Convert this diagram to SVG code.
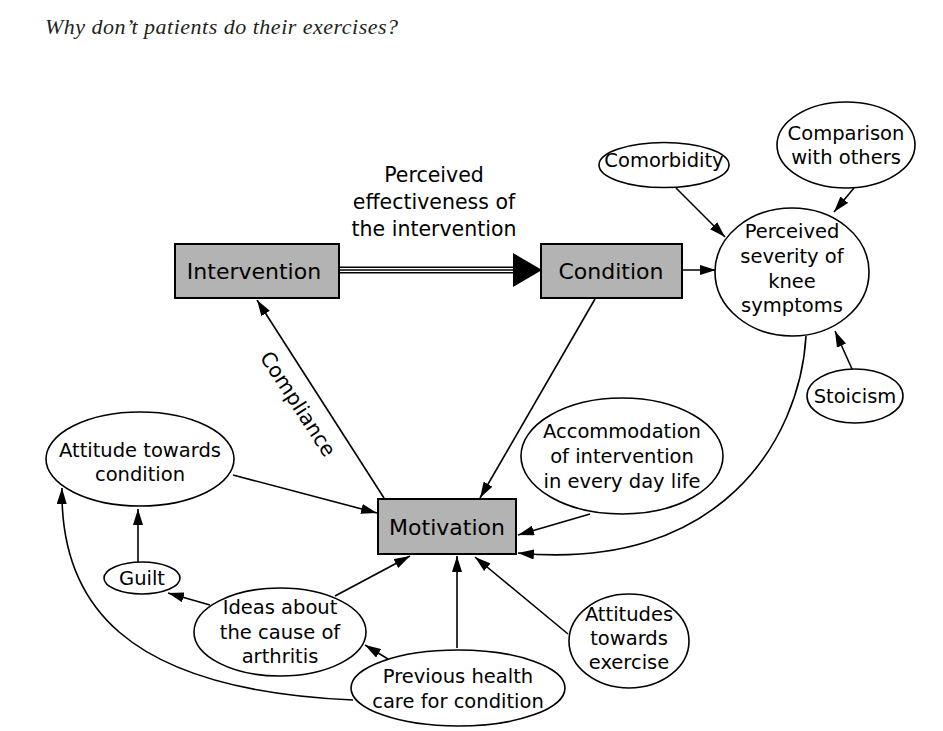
<svg xmlns="http://www.w3.org/2000/svg" width="943" height="731" viewBox="0 0 943 731">
<style>
.bg{fill:#fff}
.box{fill:#b3b3b3;stroke:#000;stroke-width:2}
.ell{fill:#fff;stroke:#000;stroke-width:1.6}
.t{font-family:"DejaVu Sans",sans-serif;font-size:19.5px;fill:#000;text-anchor:middle}
.bt{font-family:"DejaVu Sans",sans-serif;font-size:22px;fill:#000;text-anchor:middle}
.lt{font-family:"DejaVu Sans",sans-serif;font-size:20.5px;fill:#000;text-anchor:middle}
.c{fill:none;stroke:#000;stroke-width:1.6}
.a{marker-end:url(#ah)}
.title{font-family:"Liberation Serif",serif;font-style:italic;font-size:22px;letter-spacing:0.5px;fill:#231f20}
</style>
<defs>
<marker id="ah" viewBox="0 0 16 10" refX="16" refY="5" markerWidth="16" markerHeight="10" markerUnits="userSpaceOnUse" orient="auto">
<path d="M0,0 L16,5 L0,10 z" fill="#000"/>
</marker>
</defs>
<rect class="bg" x="0" y="0" width="943" height="731"/>
<text class="title" x="45" y="34">Why don’t patients do their exercises?</text>

<g id="connectors">
  <line x1="339" y1="267.2" x2="514" y2="267.2" stroke="#000" stroke-width="1.4"/>
  <line x1="339" y1="270" x2="514" y2="270" stroke="#000" stroke-width="1.4"/>
  <line x1="339" y1="272.8" x2="514" y2="272.8" stroke="#000" stroke-width="1.4"/>
  <polygon points="513,253 542,270 513,287" fill="#000"/>
  <line class="c a" x1="682" y1="270" x2="716" y2="270"/>
  <line class="c a" x1="676" y1="188" x2="725" y2="237"/>
  <line class="c a" x1="854" y1="188" x2="834" y2="212"/>
  <line class="c a" x1="852" y1="369" x2="835" y2="331"/>
  <path class="c a" d="M806,336 C800,440 720,572 518,553"/>
  <line class="c a" x1="590" y1="514" x2="518" y2="535"/>
  <line class="c a" x1="595" y1="299" x2="480" y2="498"/>
  <line class="c a" x1="384" y1="498" x2="257" y2="300"/>
  <line class="c a" x1="233" y1="475" x2="377" y2="513"/>
  <line class="c a" x1="138" y1="562" x2="138" y2="509"/>
  <line class="c a" x1="210" y1="605" x2="168" y2="593"/>
  <line class="c a" x1="335" y1="596" x2="410" y2="556"/>
  <line class="c a" x1="457" y1="648" x2="457" y2="556"/>
  <line class="c a" x1="388" y1="659" x2="365" y2="645"/>
  <line class="c a" x1="568" y1="634" x2="475" y2="557"/>
  <path class="c a" d="M353,700 C120,690 60,600 62,488"/>
</g>

<g id="label-effectiveness">
  <text class="lt" x="434" y="182">Perceived</text>
  <text class="lt" x="434" y="209">effectiveness of</text>
  <text class="lt" x="434" y="236">the intervention</text>
</g>
<g id="label-compliance">
  <text class="lt" transform="translate(298,404) rotate(57)" x="0" y="7">Compliance</text>
</g>

<g id="intervention">
  <rect class="box" x="175" y="244" width="164" height="54"/>
  <text class="bt" x="254" y="279">Intervention</text>
</g>
<g id="condition">
  <rect class="box" x="541" y="244" width="141" height="54"/>
  <text class="bt" x="611" y="279">Condition</text>
</g>
<g id="motivation">
  <rect class="box" x="378" y="499" width="138" height="55"/>
  <text class="bt" x="447" y="535">Motivation</text>
</g>
<g id="severity">
  <ellipse class="ell" cx="792" cy="272" rx="77" ry="64"/>
  <text class="t" x="792" y="238">Perceived</text>
  <text class="t" x="792" y="263">severity of</text>
  <text class="t" x="792" y="288">knee</text>
  <text class="t" x="792" y="312">symptoms</text>
</g>
<g id="comorbidity">
  <ellipse class="ell" cx="664" cy="165" rx="65" ry="22.5"/>
  <text class="t" x="664" y="167">Comorbidity</text>
</g>
<g id="comparison">
  <ellipse class="ell" cx="846" cy="145" rx="69" ry="43"/>
  <text class="t" x="846" y="140">Comparison</text>
  <text class="t" x="846" y="164">with others</text>
</g>
<g id="stoicism">
  <ellipse class="ell" cx="855" cy="396" rx="48" ry="27"/>
  <text class="t" x="855" y="403">Stoicism</text>
</g>
<g id="accommodation">
  <ellipse class="ell" cx="622" cy="456" rx="101" ry="58"/>
  <text class="t" x="622" y="438">Accommodation</text>
  <text class="t" x="622" y="463">of intervention</text>
  <text class="t" x="622" y="488">in every day life</text>
</g>
<g id="attitude-condition">
  <ellipse class="ell" cx="140" cy="459" rx="94" ry="47"/>
  <text class="t" x="140" y="457">Attitude towards</text>
  <text class="t" x="140" y="481">condition</text>
</g>
<g id="guilt">
  <ellipse class="ell" cx="142" cy="578" rx="38" ry="16"/>
  <text class="t" x="142" y="585">Guilt</text>
</g>
<g id="ideas">
  <ellipse class="ell" cx="280" cy="632" rx="86" ry="44"/>
  <text class="t" x="280" y="614">Ideas about</text>
  <text class="t" x="280" y="639">the cause of</text>
  <text class="t" x="280" y="663">arthritis</text>
</g>
<g id="previous">
  <ellipse class="ell" cx="458" cy="688" rx="107" ry="38"/>
  <text class="t" x="458" y="683">Previous health</text>
  <text class="t" x="458" y="708">care for condition</text>
</g>
<g id="attitudes-exercise">
  <ellipse class="ell" cx="629" cy="641" rx="60" ry="47"/>
  <text class="t" x="629" y="621">Attitudes</text>
  <text class="t" x="629" y="645">towards</text>
  <text class="t" x="629" y="669">exercise</text>
</g>
</svg>
